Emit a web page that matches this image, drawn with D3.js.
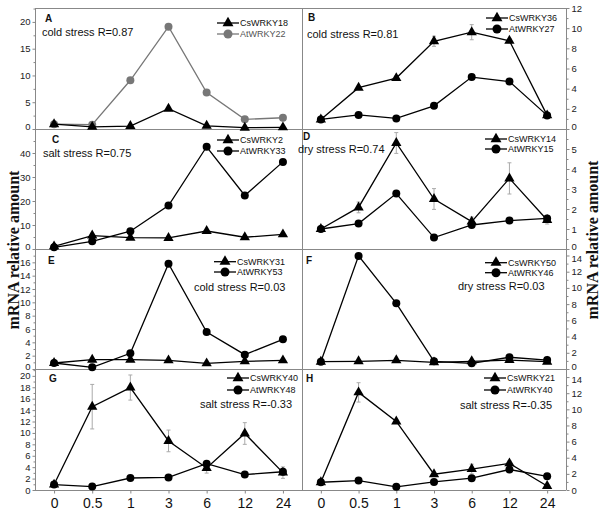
<!DOCTYPE html>
<html><head><meta charset="utf-8">
<script src="https://cdn.jsdelivr.net/npm/d3@7"></script>
<style>body{margin:0;background:#fff}</style></head>
<body>
<svg id="c" width="600" height="524"></svg>
<script>
// ---------- data ----------
const timePoints = ["0","0.5","1","3","6","12","24"];

const csWRKY18 = [0.9,0.4,0.55,3.8,0.6,0.25,0.3];
const atWRKY22 = [0.9,0.8,9.1,19.1,6.8,1.8,2.1];

const csWRKY36 = [0.95,4.1,5.05,8.7,9.6,8.75,1.35];
const atWRKY27 = [0.95,1.4,1.05,2.3,5.15,4.7,1.35];
const errCsWRKY36 = [0,0,0.2,0.5,0.75,0.2,0];

const csWRKY2  = [1.1,5.6,4.7,4.6,7.5,4.9,6.1];
const atWRKY33 = [0.7,3.2,7.4,18.1,42.6,22.3,36.3];

const csWRKY14 = [1.0,2.08,5.3,2.5,1.37,3.53,1.45];
const atWRKY15 = [1.0,1.27,2.77,0.57,1.2,1.42,1.53];
const errCsWRKY14 = [0,0.27,0.52,0.52,0.23,0.78,0.2];

const csWRKY31 = [0.9,1.4,1.4,1.3,0.85,1.15,1.3];
const atWRKY53 = [0.9,0.25,2.35,15.8,5.55,2.15,4.45];

const csWRKY50 = [0.9,0.95,1.07,0.82,0.95,1.1,0.9];
const atWRKY46 = [0.9,13.95,8.1,0.95,0.7,1.45,1.1];

const csWRKY40 = [0.95,14.6,17.95,8.6,3.86,9.9,3.04];
const atWRKY48 = [0.95,0.6,2.1,2.2,4.6,2.7,3.2];
const errCsWRKY40 = [0,3.9,2.2,1.9,0.9,1.9,1.0];

const csWRKY21 = [0.96,12.1,8.5,1.96,2.6,3.3,0.5];
const atWRKY40 = [0.96,1.17,0.4,1.0,1.46,2.54,1.7];
const errCsWRKY21 = [0,1.2,0,0,0.6,0.3,0];

const panelLetters = ["A","B","C","D","E","F","G","H"];
const stressLabels = ["cold stress R=0.87","cold stress R=0.81","salt stress R=0.75","dry stress R=0.74",
                      "cold stress R=0.03","dry stress R=0.03","salt stress R=-0.33","salt stress R=-0.35"];
const csNames = ["CsWRKY18","CsWRKY36","CsWRKY2","CsWRKY14","CsWRKY31","CsWRKY50","CsWRKY40","CsWRKY21"];
const atNames = ["AtWRKY22","AtWRKY27","AtWRKY33","AtWRKY15","AtWRKY53","AtWRKY46","AtWRKY48","AtWRKY40"];
const csSeries = [csWRKY18,csWRKY36,csWRKY2,csWRKY14,csWRKY31,csWRKY50,csWRKY40,csWRKY21];
const atSeries = [atWRKY22,atWRKY27,atWRKY33,atWRKY15,atWRKY53,atWRKY46,atWRKY48,atWRKY40];
const csErrors = [null,errCsWRKY36,null,errCsWRKY14,null,null,errCsWRKY40,errCsWRKY21];
const yMaxes   = [22.6,12,50,6,18,14.8,21.2,15];
const yTickStep= [5,2,10,1,2,2,2,2];
const yTickMax = [20,12,40,5,16,14,20,14];
const yAxisTitle = "mRNA relative amount";

// ---------- layout ----------
const W=600,H=524;
const colX=[35,302,566];
const rowY=[8,129,249,369,490];
const frameColor="#888";
const fontSans="'Liberation Sans', Arial, sans-serif";
// per-panel positions relative to panel origin
const layout=[
 {letter:[10,13.5], stress:[7,28],   leg:[182,15,26]},
 {letter:[6,12.5],  stress:[5,30],   leg:[184,10,21]},
 {letter:[17,13.5], stress:[8,28],   leg:[182,11,22]},
 {letter:[1,10.5],  stress:[-4,24],  leg:[183,10,20]},
 {letter:[13,14.5], stress:[159,42], leg:[179,12.7,23]},
 {letter:[4,14.5],  stress:[156,41], leg:[183,13.7,23.7]},
 {letter:[14,12.5], stress:[165,39], leg:[192,9,21]},
 {letter:[4,12.5],  stress:[158,40], leg:[182,9,21]}
];

const svg=d3.select("#c");
svg.append("rect").attr("width",W).attr("height",H).attr("fill","#fff");

const triSym=d3.symbol().type(d3.symbolTriangle).size(46);
const triLeg=d3.symbol().type(d3.symbolTriangle).size(52);

// frame
const frame=svg.append("g").attr("stroke",frameColor).attr("stroke-width",1).attr("fill","none");
rowY.forEach(y=>frame.append("line").attr("x1",colX[0]).attr("x2",colX[2]).attr("y1",y+0.5).attr("y2",y+0.5));
colX.forEach(x=>frame.append("line").attr("x1",x+0.5).attr("x2",x+0.5).attr("y1",rowY[0]).attr("y2",rowY[4]));

panelLetters.forEach((L,i)=>{
  const col=i%2,row=Math.floor(i/2);
  const x0=colX[col],x1=colX[col+1],y0=rowY[row],y1=rowY[row+1];
  const x=d3.scalePoint().domain(timePoints).range([x0,x1]).padding(0.5);
  const y=d3.scaleLinear().domain([0,yMaxes[i]]).range([y1,y0]);
  const g=svg.append("g");
  const lay=layout[i];

  // y axis
  const major=d3.range(0,yTickMax[i]+1e-9,yTickStep[i]);
  const minor=d3.range(yTickStep[i]/2,yMaxes[i],yTickStep[i]);
  const axisFn = col===0?d3.axisLeft:d3.axisRight;
  const ax=g.append("g").attr("transform",`translate(${(col===0?x0:x1)+0.5},0)`)
    .call(axisFn(y).tickValues(major).tickSize(3).tickPadding(2).tickFormat(d3.format("d")));
  ax.select(".domain").remove();
  ax.selectAll("line").attr("stroke",frameColor);
  ax.selectAll("text").attr("font-family",fontSans).attr("font-size",9.5).attr("fill","#222");
  // nudge crowded labels at panel joins
  const spacing=y(0)-y(yTickStep[i]);
  ax.selectAll(".tick").filter(d=>d===0 && row<3).select("text").attr("dy","0.05em");
  ax.selectAll(".tick").filter(d=>y(d)-y0<10 && row>0 && spacing>15).select("text").attr("dy","0.6em");
  const axm=g.append("g").attr("transform",`translate(${(col===0?x0:x1)+0.5},0)`)
    .call(axisFn(y).tickValues(minor).tickSize(2).tickFormat(""));
  axm.select(".domain").remove();
  axm.selectAll("line").attr("stroke",frameColor);

  // x axis on bottom row
  if(row===3){
    const bx=g.append("g").attr("transform",`translate(0,${y1+0.5})`)
      .call(d3.axisBottom(x).tickSize(3).tickPadding(5));
    bx.select(".domain").remove();
    bx.selectAll("line").attr("stroke",frameColor);
    bx.selectAll("text").attr("font-family",fontSans).attr("font-size",14).attr("fill","#111");
  }

  const atColor = i===0?"#777":"#000";
  const line=d3.line().x((d,k)=>x(timePoints[k])).y(d=>y(d));

  // error bars
  const err=csErrors[i];
  if(err){
    const eg=g.append("g").attr("stroke","#aaa").attr("stroke-width",1);
    csSeries[i].forEach((v,k)=>{
      if(!err[k]) return;
      const cx=x(timePoints[k]);
      eg.append("line").attr("x1",cx).attr("x2",cx).attr("y1",y(v-err[k])).attr("y2",y(v+err[k]));
      [v-err[k],v+err[k]].forEach(e=>eg.append("line").attr("x1",cx-2).attr("x2",cx+2).attr("y1",y(e)).attr("y2",y(e)));
    });
  }

  // At series (circles)
  g.append("path").datum(atSeries[i]).attr("d",line).attr("fill","none").attr("stroke",atColor).attr("stroke-width",1.3);
  g.selectAll(".c").data(atSeries[i]).join("circle")
    .attr("cx",(d,k)=>x(timePoints[k])).attr("cy",d=>y(d)).attr("r",4).attr("fill",atColor);
  // Cs series (triangles)
  g.append("path").datum(csSeries[i]).attr("d",line).attr("fill","none").attr("stroke","#000").attr("stroke-width",1.3);
  g.selectAll(".t").data(csSeries[i]).join("path")
    .attr("d",triSym).attr("transform",(d,k)=>`translate(${x(timePoints[k])},${y(d)})`).attr("fill","#000");

  // panel letter
  g.append("text").attr("x",x0+lay.letter[0]).attr("y",y0+lay.letter[1]).text(L)
    .attr("font-family",fontSans).attr("font-weight","bold").attr("font-size",10).attr("fill","#111");
  // stress label
  g.append("text").attr("x",x0+lay.stress[0]).attr("y",y0+lay.stress[1]).text(stressLabels[i])
    .attr("font-family",fontSans).attr("font-size",11).attr("fill","#111");
  // legend
  const lx=x0+lay.leg[0];
  [[csNames[i],"#000","tri",lay.leg[1]],[atNames[i],atColor,"cir",lay.leg[2]]].forEach(([nm,colr,mk,ly])=>{
    const yy=y0+ly;
    g.append("line").attr("x1",lx).attr("x2",lx+22).attr("y1",yy).attr("y2",yy).attr("stroke",colr).attr("stroke-width",1.3);
    if(mk==="tri") g.append("path").attr("d",triLeg).attr("transform",`translate(${lx+11},${yy})`).attr("fill",colr);
    else g.append("circle").attr("cx",lx+11).attr("cy",yy).attr("r",4.5).attr("fill",colr);
    g.append("text").attr("x",lx+23).attr("y",yy+3.2).text(nm)
      .attr("font-family",fontSans).attr("font-size",9).attr("fill",i===0&&mk==="cir"?"#555":"#111");
  });
});

// axis titles
[[13,250],[592,240]].forEach(([tx,ty])=>{
  svg.append("text").attr("transform",`translate(${tx},${ty}) rotate(-90)`)
    .attr("text-anchor","middle").attr("dominant-baseline","central")
    .attr("font-family","'Liberation Serif','Times New Roman',serif").attr("font-weight","bold")
    .attr("font-size",16).attr("fill","#111").text(yAxisTitle);
});
</script>
</body></html>
